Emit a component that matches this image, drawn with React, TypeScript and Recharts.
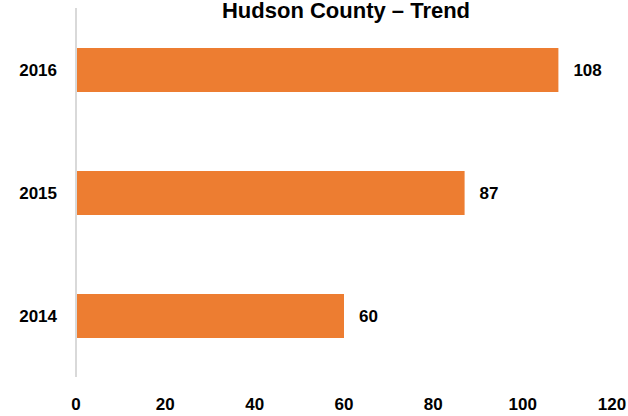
import { BarChart, Bar, XAxis, YAxis, LabelList } from 'recharts'

const years = ['2016', '2015', '2014']
const counts = [108, 87, 60]
const xTicks = [0, 20, 40, 60, 80, 100, 120]

const data = years.map((year, i) => ({ year, count: counts[i] }))

const font = '"Liberation Sans", Arial, sans-serif'

export default function App() {
  return (
    <div style={{ position: 'absolute', left: 0, top: 0, width: 628, height: 416, background: '#fff' }}>
      <BarChart
        width={628}
        height={416}
        data={data}
        layout="vertical"
        margin={{ top: 8, right: 16, left: 0, bottom: 9 }}
        style={{ fontFamily: font }}
      >
        <XAxis
          type="number"
          domain={[0, 120]}
          ticks={xTicks}
          axisLine={false}
          tickLine={false}
          tickSize={0}
          tickMargin={21}
          tick={{ fontSize: 17, fontWeight: 700, fill: '#000' }}
        />
        <YAxis
          type="category"
          dataKey="year"
          width={76}
          axisLine={{ stroke: '#d9d9d9', strokeWidth: 2 }}
          tickLine={false}
          tickSize={0}
          tickMargin={19}
          tick={{ fontSize: 17, fontWeight: 700, fill: '#000' }}
        />
        <Bar dataKey="count" fill="#ED7D31" barSize={44} isAnimationActive={false}>
          <LabelList
            dataKey="count"
            position="right"
            offset={15}
            style={{ fontSize: 17, fontWeight: 700, fill: '#000' }}
          />
        </Bar>
      </BarChart>
      <svg width={628} height={40} style={{ position: 'absolute', left: 0, top: 0, pointerEvents: 'none' }}>
        <text x={346} y={18} textAnchor="middle" fontFamily={font} fontSize={22} fontWeight={700} fill="#000">
          Hudson County – Trend
        </text>
      </svg>
    </div>
  )
}
